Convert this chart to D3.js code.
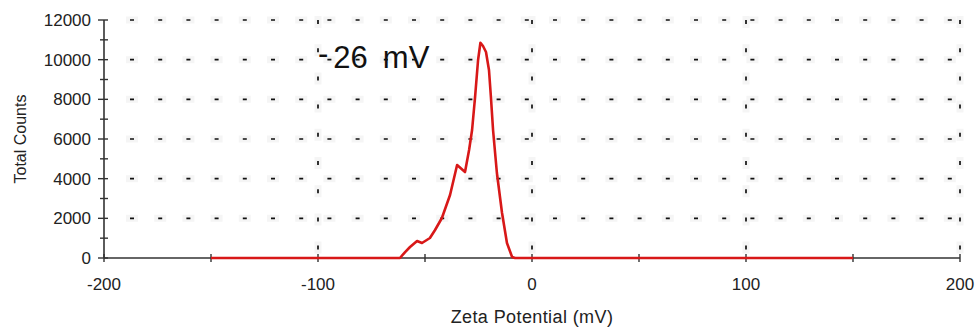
<!DOCTYPE html>
<html>
<head>
<meta charset="utf-8">
<script src="https://cdn.jsdelivr.net/npm/d3@7/dist/d3.min.js"></script>
<style>
  html, body { margin: 0; padding: 0; background: #fff; }
  svg { display: block; }
  text { font-family: "Liberation Sans", Arial, sans-serif; }
</style>
</head>
<body>
<svg id="chart" width="980" height="329"></svg>
<script>
// Zeta potential distribution (mV) and total counts
const zeta = [-150, -61.7, -59.3, -57.0, -53.7, -51.4, -47.7, -45.3, -42.1, -38.3, -35.0,
              -31.3, -29.4, -28.0, -26.6, -25.2, -24.1, -22.9, -21.5, -20.1, -19.2, -18.2,
              -16.4, -14.0, -11.7, -9.3, -7.9, 150];
const counts = [0, 0, 300, 555, 857, 756, 1008, 1412, 2017, 3176, 4689,
                4336, 5445, 6454, 8118, 9983, 10855, 10690, 10386, 9479, 8118, 6454,
                4286, 2269, 756, 50, 0, 0];

const xTicks = [-200, -100, 0, 100, 200];
const xMinorTicks = [-200, -150, -100, -50, 0, 50, 100, 150, 200];
const yTicks = [0, 2000, 4000, 6000, 8000, 10000, 12000];
const yMinorTicks = [1000, 3000, 5000, 7000, 9000, 11000];

const meanLabel = { value: "26", sign: "-", unit: "mV", x: -100, y: 9600 };

const svg = d3.select("#chart");
const x = d3.scaleLinear().domain([-200, 200]).range([104, 960]);
const y = d3.scaleLinear().domain([0, 12000]).range([258, 20]);

const axisColor = "#333";
const gridPeriod = 28.2;

// dotted grid: soft halo under each dash, then the dash itself
const gridG = svg.append("g");
function hRows(cls, color, width, dash, shift) {
  gridG.selectAll("line." + cls)
    .data(yTicks.filter(d => d > 0))
    .join("line")
    .attr("class", cls)
    .attr("x1", x(-200) + 26 - shift).attr("x2", x(200))
    .attr("y1", d => y(d)).attr("y2", d => y(d))
    .attr("stroke", color)
    .attr("stroke-width", width)
    .attr("stroke-dasharray", `${dash} ${gridPeriod - dash}`);
}
function vCols(cls, color, width, dash, shift) {
  gridG.selectAll("line." + cls)
    .data(xTicks.filter(d => d > -200))
    .join("line")
    .attr("class", cls)
    .attr("x1", d => x(d)).attr("x2", d => x(d))
    .attr("y1", y(12000) - shift).attr("y2", y(0))
    .attr("stroke", color)
    .attr("stroke-width", width)
    .attr("stroke-dasharray", `${dash} ${gridPeriod - dash}`);
}
hRows("hhalo", "#f5f5f5", 7, 12, 4);
vCols("vhalo", "#f5f5f5", 7, 12, 4);
hRows("hgrid", "#111", 1.7, 4, 0);
vCols("vgrid", "#111", 1.7, 4, 0);

// y axis
const yAxisG = svg.append("g");
yAxisG.append("line")
  .attr("x1", x(-200)).attr("x2", x(-200))
  .attr("y1", y(12000)).attr("y2", y(0))
  .attr("stroke", axisColor).attr("stroke-width", 1.6);
yAxisG.selectAll("line.ymaj")
  .data(yTicks)
  .join("line")
  .attr("x1", x(-200) - 6).attr("x2", x(-200) + 4)
  .attr("y1", d => y(d)).attr("y2", d => y(d))
  .attr("stroke", axisColor).attr("stroke-width", 1.4);
yAxisG.selectAll("line.ymin")
  .data(yMinorTicks)
  .join("line")
  .attr("x1", x(-200) - 4).attr("x2", x(-200) + 4)
  .attr("y1", d => y(d)).attr("y2", d => y(d))
  .attr("stroke", axisColor).attr("stroke-width", 1.4);
yAxisG.selectAll("text")
  .data(yTicks)
  .join("text")
  .attr("x", x(-200) - 13)
  .attr("y", d => y(d))
  .attr("dy", "0.36em")
  .attr("text-anchor", "end")
  .attr("font-size", 17)
  .attr("fill", "#222")
  .text(d => d);

// x axis
const xAxisG = svg.append("g");
xAxisG.append("line")
  .attr("x1", x(-200)).attr("x2", x(200))
  .attr("y1", y(0)).attr("y2", y(0))
  .attr("stroke", axisColor).attr("stroke-width", 1.6);
xAxisG.selectAll("line.xtick")
  .data(xMinorTicks)
  .join("line")
  .attr("x1", d => x(d)).attr("x2", d => x(d))
  .attr("y1", y(0) - 4).attr("y2", y(0) + 4)
  .attr("stroke", axisColor).attr("stroke-width", 1.4);
xAxisG.selectAll("text")
  .data(xTicks)
  .join("text")
  .attr("x", d => x(d))
  .attr("y", y(0) + 32)
  .attr("text-anchor", "middle")
  .attr("font-size", 17)
  .attr("fill", "#222")
  .text(d => d);

// axis titles
svg.append("text")
  .attr("x", (x(-200) + x(200)) / 2)
  .attr("y", 323)
  .attr("text-anchor", "middle")
  .attr("font-size", 18)
  .attr("letter-spacing", 0.4)
  .attr("fill", "#222")
  .text("Zeta Potential (mV)");

svg.append("text")
  .attr("transform", `translate(26, ${(y(0) + y(12000)) / 2}) rotate(-90)`)
  .attr("text-anchor", "middle")
  .attr("font-size", 16)
  .attr("fill", "#222")
  .text("Total Counts");

// distribution curve
const line = d3.line()
  .x((d, i) => x(zeta[i]))
  .y(d => y(d));
svg.append("path")
  .datum(counts)
  .attr("d", line)
  .attr("fill", "none")
  .attr("stroke", "#d81818")
  .attr("stroke-width", 2.6)
  .attr("stroke-linejoin", "round");

// mean zeta potential annotation
const ann = svg.append("text")
  .attr("x", x(meanLabel.x))
  .attr("y", y(meanLabel.y))
  .attr("font-size", 31)
  .attr("fill", "#111");
ann.append("tspan").attr("dy", -4).text(meanLabel.sign);
ann.append("tspan").attr("dx", 5).attr("dy", 4).text(meanLabel.value);
ann.append("tspan").attr("dx", 15).text(meanLabel.unit);
</script>
</body>
</html>
